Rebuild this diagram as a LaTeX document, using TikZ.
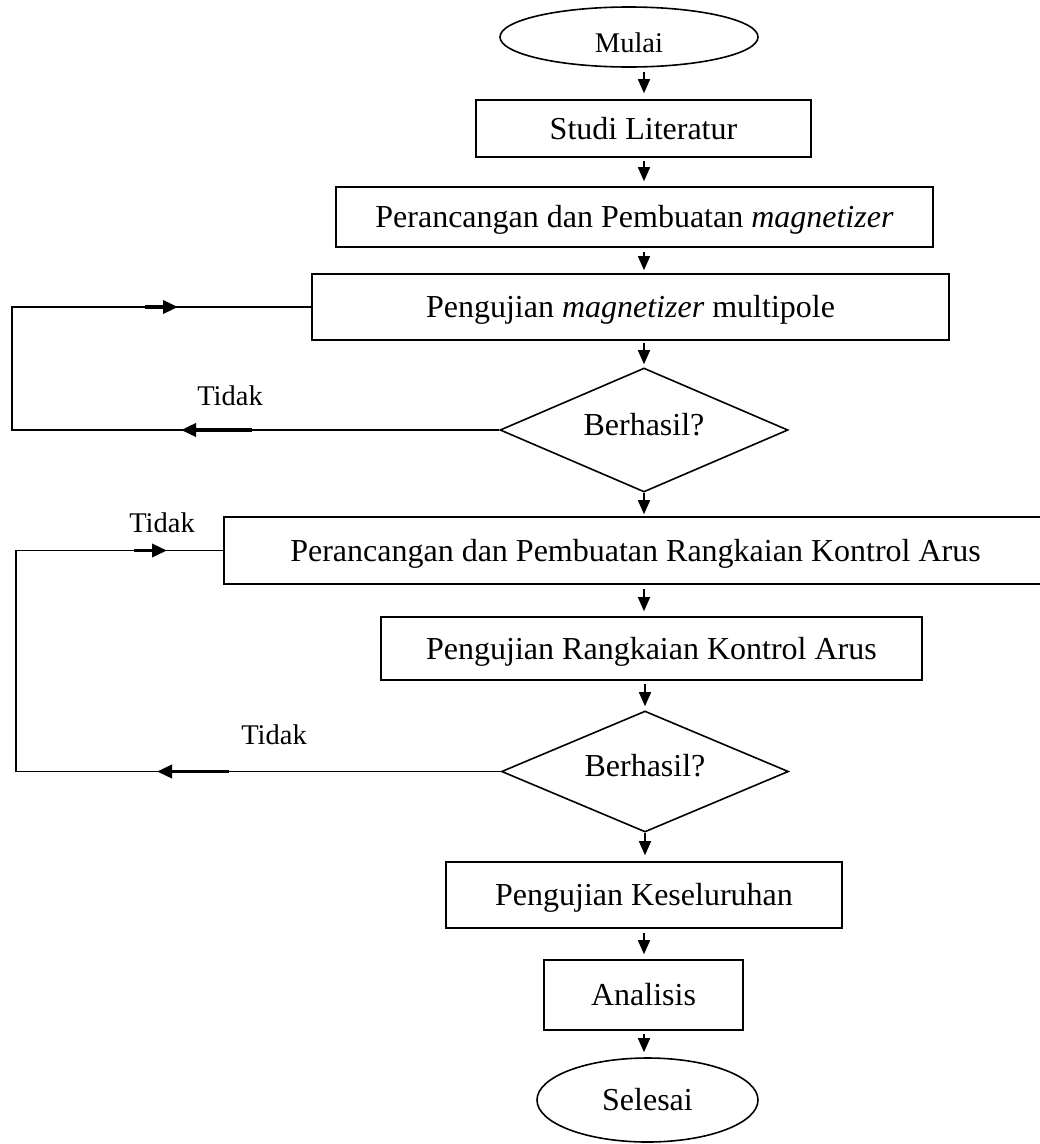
\documentclass[tikz,border=0pt]{standalone}
\usepackage{fontspec}
\setmainfont{Liberation Serif}
\usetikzlibrary{shapes.geometric,arrows.meta}
\newcommand{\bigsz}{\fontsize{32}{38}\selectfont}
\newcommand{\smallsz}{\fontsize{28.5}{34}\selectfont}
\tikzset{
  box/.style={draw, rectangle, line width=1.6pt, inner sep=0pt, font=\bigsz, text height=21.8pt, text depth=0pt},
  term/.style={draw, ellipse, line width=1.6pt, inner sep=0pt},
  decide/.style={draw, diamond, shape aspect=2.32, line width=1.6pt, inner sep=0pt, font=\bigsz, text height=21.8pt, text depth=11pt},
  flow/.style={line width=1.5pt, -{Triangle[length=14pt,width=12pt]}},
  loopline/.style={line width=1.5pt},
  heavy/.style={line width=3.5pt, -{Triangle[length=15pt,width=13pt]}},
  lbl/.style={font=\smallsz, inner sep=0pt}
}
\begin{document}
\begin{tikzpicture}[x=1pt,y=-1pt]
\useasboundingbox (0,0) rectangle (1040,1144);
\clip (0,0) rectangle (1040,1144);
\fill[white] (0,0) rectangle (1040,1144);
\coordinate (ax) at (644,0);

\node[term, minimum width=258pt, minimum height=60pt, font=\smallsz, text height=30pt, text depth=0pt] (mulai) at (629,37) {Mulai};
\node[box, minimum width=335pt, minimum height=57pt] (studi) at (643.5,128.5) {Studi Literatur};
\node[box, minimum width=597pt, minimum height=60pt] (rancang1) at (634.5,217) {Perancangan dan Pembuatan \textit{magnetizer}};
\node[box, minimum width=637pt, minimum height=66pt] (uji1) at (630.5,307) {Pengujian \textit{magnetizer} multipole};
\node[decide, minimum width=288pt, minimum height=124pt] (dec1) at (644,430) {Berhasil?};
\node[box, minimum width=823pt, minimum height=67pt] (rancang2) at (635.5,550.5) {Perancangan dan Pembuatan Rangkaian Kontrol Arus};
\node[box, minimum width=541pt, minimum height=63pt] (uji2) at (651.5,648.5) {Pengujian Rangkaian Kontrol Arus};
\node[decide, minimum width=287pt, minimum height=121pt] (dec2) at (645,771.5) {Berhasil?};
\node[box, minimum width=396pt, minimum height=66pt] (ujiall) at (644,895) {Pengujian Keseluruhan};
\node[box, minimum width=199pt, minimum height=70pt] (analisis) at (643.5,995) {Analisis};
\node[term, minimum width=221pt, minimum height=84pt, font=\bigsz, text height=21.8pt, text depth=0pt] (selesai) at (647.5,1100) {Selesai};

% main flow
\draw[flow, shorten >=6pt, shorten <=4pt] (mulai.south -| ax) -- (studi.north -| ax);
\draw[flow, shorten >=5pt, shorten <=3pt] (studi.south -| ax) -- (rancang1.north -| ax);
\draw[flow, shorten >=3pt, shorten <=4pt] (rancang1.south -| ax) -- (uji1.north -| ax);
\draw[flow, shorten >=3pt, shorten <=2pt] (uji1.south -| ax) -- (dec1.north);
\draw[flow, shorten >=2pt] (dec1.south) -- (rancang2.north -| dec1.south);
\draw[flow, shorten >=5pt, shorten <=4pt] (rancang2.south -| dec1.south) -- (uji2.north -| dec1.south);
\draw[flow, shorten >=4pt, shorten <=3pt] (uji2.south -| dec2.north) -- (dec2.north);
\draw[flow, shorten >=6pt] (dec2.south) -- (ujiall.north -| dec2.south);
\draw[flow, shorten >=5pt, shorten <=4pt] (ujiall.south -| ax) -- (analisis.north -| ax);
\draw[flow, shorten >=5pt, shorten <=3pt] (analisis.south -| ax) -- (selesai.north -| ax);

% loop 1
\coordinate (l1) at (12,0);
\draw[loopline] (dec1.west) -- (dec1.west -| l1) |- (uji1.west);
\coordinate (a1s) at (145,307);
\coordinate (a1e) at (178,307);
\draw[heavy] (a1s) -- (a1e);
\coordinate (a2s) at (252,430);
\coordinate (a2e) at (181,430);
\draw[heavy] (a2s) -- (a2e);
\node[lbl] (tidak1) at (230,396) {Tidak};

% loop 2
\coordinate (l2) at (16,0);
\draw[loopline] (dec2.west) -- (dec2.west -| l2) |- (rancang2.west);
\coordinate (b1s) at (134,550.5);
\coordinate (b1e) at (167,550.5);
\draw[heavy] (b1s) -- (b1e);
\coordinate (b2s) at (229,771.5);
\coordinate (b2e) at (157,771.5);
\draw[heavy] (b2s) -- (b2e);
\node[lbl] (tidak2) at (162,523) {Tidak};
\node[lbl] (tidak3) at (274,735) {Tidak};
\end{tikzpicture}
\end{document}
